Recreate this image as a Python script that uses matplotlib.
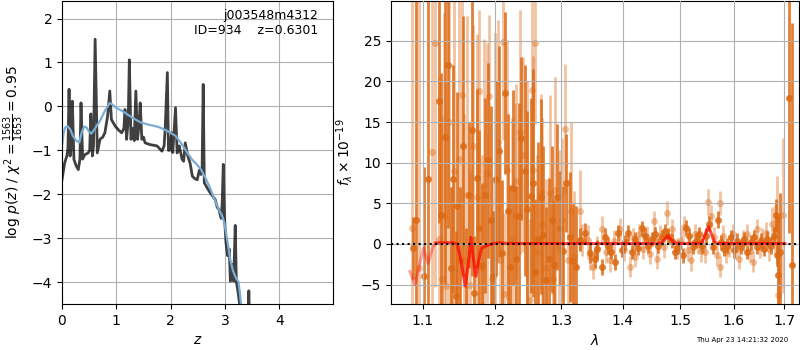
import matplotlib
matplotlib.use('Agg')
import matplotlib.pyplot as plt
from matplotlib.ticker import FixedLocator, NullLocator, FixedFormatter

# p(z) curve
z_grid = [0.0, 0.05, 0.09, 0.11, 0.13, 0.15, 0.17, 0.19, 0.22, 0.26,
          0.30, 0.33, 0.35, 0.38, 0.42, 0.48, 0.51, 0.53, 0.56, 0.58,
          0.61, 0.65, 0.70, 0.75, 0.79, 0.84, 0.88, 0.91, 0.98, 1.05,
          1.10, 1.14, 1.16, 1.19, 1.22, 1.24, 1.27, 1.31, 1.33, 1.36,
          1.39, 1.42, 1.44, 1.47, 1.50, 1.53, 1.62, 1.75, 1.84, 1.88,
          1.90, 1.94, 1.96, 1.98, 2.02, 2.04, 2.09, 2.12, 2.16, 2.21,
          2.24, 2.27, 2.31, 2.36, 2.40, 2.45, 2.49, 2.53, 2.56, 2.58,
          2.60, 2.62, 2.67, 2.73, 2.78, 2.82, 2.86, 2.89, 2.93, 2.95,
          2.97, 2.99, 3.02, 3.05, 3.08, 3.10, 3.14, 3.16, 3.19, 3.21,
          3.25, 3.30, 3.36, 3.42, 3.44, 3.46]
log_pz = [-1.67, -1.28, -1.13, -0.95, 0.39, -1.13, -0.90, 0.12, -1.21, -1.35,
          -1.44, -1.20, 0.08, -1.20, -1.10, -1.06, -1.00, -0.17, -1.13, -0.90,
          1.53, -1.06, -0.75, -0.70, -0.60, -0.22, 0.35, -0.30, -0.45, -0.55,
          -0.60, -0.50, -0.07, -0.75, -0.30, 1.06, -0.75, -0.50, -0.78, 0.35,
          -0.75, -0.40, 0.08, -0.75, -0.70, -0.83, -0.87, -0.90, -1.02, -0.90,
          -0.50, 0.77, -1.00, -1.00, -0.60, -1.05, -0.03, -1.06, -0.90, -1.20,
          -1.25, -0.83, -1.10, -1.30, -1.59, -1.65, -1.67, -1.45, -1.55, -1.40,
          0.50, -1.74, -1.85, -1.97, -2.05, -2.12, -2.30, -2.35, -2.55, -2.20,
          -1.32, -2.50, -3.10, -3.40, -3.25, -3.98, -3.60, -3.98, -2.71, -3.98,
          -4.30, -4.80, -5.20, -5.00, -4.20, -5.30]

z_smooth = [0.0, 0.03, 0.06, 0.10, 0.15, 0.20, 0.26, 0.32, 0.36, 0.41,
            0.45, 0.50, 0.54, 0.60, 0.65, 0.70, 0.75, 0.79, 0.84, 0.88,
            0.93, 0.98, 1.10, 1.19, 1.30, 1.44, 1.55, 1.60, 1.69, 1.80,
            1.94, 2.09, 2.20, 2.31, 2.40, 2.48, 2.56, 2.65, 2.74, 2.82,
            2.89, 2.95, 2.99, 3.05, 3.10, 3.15, 3.20, 3.25, 3.28, 3.31]
log_pz_smooth = [-0.90, -0.60, -0.48, -0.45, -0.52, -0.67, -0.78, -0.82, -0.60, -0.46,
                 -0.48, -0.58, -0.62, -0.52, -0.42, -0.33, -0.20, -0.10, 0.00, 0.08,
                 0.04, -0.02, -0.10, -0.17, -0.26, -0.36, -0.40, -0.42, -0.44, -0.48,
                 -0.56, -0.67, -0.85, -1.06, -1.22, -1.32, -1.44, -1.65, -1.90, -2.15,
                 -2.35, -2.50, -2.65, -3.10, -3.50, -3.75, -3.90, -4.00, -4.30, -4.70]

# spectrum, first set (dark)
dark_wave = [1.088, 1.091, 1.102, 1.107, 1.122, 1.125, 1.130, 1.134, 1.138, 1.141,
             1.145, 1.147, 1.151, 1.155, 1.159, 1.163, 1.167, 1.171, 1.174, 1.178,
             1.182, 1.186, 1.190, 1.194, 1.198, 1.202, 1.206, 1.211, 1.215, 1.219,
             1.222, 1.227, 1.231, 1.235, 1.239, 1.244, 1.248, 1.253, 1.256, 1.260,
             1.264, 1.268, 1.272, 1.277, 1.281, 1.285, 1.288, 1.294, 1.298, 1.302,
             1.307, 1.313, 1.318, 1.324, 1.330, 1.337, 1.345, 1.354, 1.358, 1.365,
             1.370, 1.376, 1.381, 1.387, 1.392, 1.398, 1.404, 1.409, 1.415, 1.421,
             1.426, 1.432, 1.438, 1.444, 1.450, 1.455, 1.461, 1.467, 1.473, 1.479,
             1.485, 1.491, 1.497, 1.505, 1.511, 1.517, 1.523, 1.529, 1.535, 1.541,
             1.548, 1.554, 1.560, 1.571, 1.575, 1.581, 1.588, 1.594, 1.601, 1.607,
             1.614, 1.620, 1.626, 1.633, 1.640, 1.646, 1.653, 1.659, 1.666, 1.673,
             1.680, 1.683, 1.685, 1.687, 1.691, 1.711, 1.716]
dark_flux = [-0.5, 3.0, -4.0, 8.0, 17.6, 3.5, 13.1, 22.0, -3.0, 8.0,
             -6.4, 4.7, -2.0, 12.0, -8.0, 6.0, 14.0, -6.0, 8.1, 2.0,
             -2.6, 6.0, 10.3, 3.0, -4.0, 8.0, 11.4, -1.1, 18.6, 4.0,
             -2.8, 6.9, -1.9, 3.4, 13.0, 9.0, 4.3, 5.9, 7.5, -3.5,
             0.6, 5.8, 1.1, -4.5, -1.9, 3.0, -2.6, 5.8, 2.0, -0.9,
             7.5, 0.9, -2.1, -2.8, 0.5, 1.3, -1.1, -1.8, -0.6, -2.8,
             0.9, -0.2, -0.95, -2.2, 1.3, -0.7, 0.2, 1.3, -1.0, 0.6,
             -0.5, 1.9, 1.0, -0.2, 0.6, 1.2, -0.2, 0.8, 1.6, 1.0,
             0.4, -1.0, -0.4, -1.4, 2.0, 1.0, -0.4, 0.4, 1.2, -0.2,
             1.0, 2.5, -0.4, 3.0, 0.2, -0.6, -0.2, 0.8, -0.8, 0.4,
             -0.4, 0.6, -1.0, 0.2, 0.8, -0.4, 0.4, -0.6, 0.6, -0.2,
             1.0, 3.5, -1.4, -3.8, -1.0, 17.9, -2.6]
dark_err = [3.8, 40.0, 13.5, 40.0, 15.0, 17.5, 18.0, 20.0, 10.0, 14.0,
            8.0, 14.0, 9.0, 16.0, 10.0, 9.0, 18.0, 7.0, 11.0, 12.0,
            10.0, 12.0, 12.0, 14.0, 8.0, 12.0, 13.0, 9.0, 10.0, 12.0,
            10.0, 12.0, 9.0, 14.0, 10.0, 13.0, 12.0, 12.0, 14.0, 9.0,
            12.0, 12.0, 11.0, 9.0, 10.0, 9.0, 8.0, 9.0, 7.0, 8.0,
            6.0, 8.0, 7.0, 7.5, 1.4, 1.3, 1.2, 1.2, 1.1, 1.0,
            1.0, 1.0, 0.9, 1.0, 1.0, 0.9, 0.9, 1.0, 0.9, 0.9,
            0.9, 0.9, 0.9, 0.9, 0.9, 0.9, 0.9, 0.9, 0.9, 0.9,
            0.9, 0.9, 0.9, 0.9, 0.9, 0.9, 0.9, 0.9, 0.9, 0.9,
            0.9, 0.9, 0.9, 1.0, 0.9, 0.9, 0.9, 0.9, 0.9, 0.9,
            0.9, 0.9, 0.9, 0.9, 0.9, 0.9, 0.9, 0.9, 1.0, 1.0,
            1.1, 2.0, 1.3, 7.2, 7.3, 16.5, 29.8]

# spectrum, second set (light)
light_wave = [1.086, 1.095, 1.112, 1.117, 1.122, 1.126, 1.129, 1.132, 1.136, 1.140,
              1.143, 1.149, 1.153, 1.157, 1.161, 1.165, 1.169, 1.175, 1.177, 1.181,
              1.185, 1.189, 1.191, 1.196, 1.201, 1.204, 1.208, 1.212, 1.213, 1.218,
              1.225, 1.229, 1.231, 1.237, 1.242, 1.247, 1.252, 1.255, 1.257, 1.259,
              1.263, 1.269, 1.270, 1.276, 1.282, 1.287, 1.291, 1.296, 1.301, 1.306,
              1.310, 1.315, 1.320, 1.329, 1.333, 1.343, 1.346, 1.351, 1.358, 1.365,
              1.372, 1.379, 1.386, 1.395, 1.402, 1.412, 1.417, 1.421, 1.428, 1.435,
              1.441, 1.447, 1.454, 1.459, 1.465, 1.471, 1.477, 1.486, 1.494, 1.502,
              1.508, 1.514, 1.520, 1.527, 1.533, 1.539, 1.545, 1.552, 1.556, 1.563,
              1.568, 1.573, 1.574, 1.579, 1.585, 1.592, 1.599, 1.605, 1.611, 1.618,
              1.626, 1.631, 1.637, 1.646, 1.652, 1.656, 1.663, 1.670, 1.675, 1.681,
              1.685, 1.688, 1.698]
light_flux = [2.0, -3.0, 11.3, 24.7, 0.6, -4.3, 3.4, -5.2, 15.0, -8.0,
              9.0, 10.5, 18.3, -2.0, 6.0, -5.0, 12.0, 5.8, 18.8, -3.0,
              7.2, 8.7, 18.2, -4.3, 7.9, 12.6, -2.0, 24.8, -6.2, 9.1,
              0.5, 3.4, 7.7, 13.8, 11.0, 5.0, -6.9, 19.0, 9.1, 24.7,
              -1.0, 6.4, 2.5, -3.0, 6.3, -4.3, 6.6, -0.5, 3.0, 14.2,
              -2.0, 4.0, -1.5, 4.1, 0.5, 0.5, -1.6, -2.8, -0.5, 1.8,
              -1.0, -2.0, 0.3, 1.8, -0.8, -2.8, 0.7, -1.6, 1.2, -0.6,
              0.9, -1.2, 2.8, -1.8, 1.0, -0.4, 3.8, 1.8, -0.6, 0.5,
              2.1, -0.8, -2.0, 1.2, 0.0, -0.9, -1.0, 5.1, 3.4, 0.8,
              -1.4, 5.0, -2.8, 1.0, -1.0, -0.3, 1.2, -0.6, -1.8, 0.4,
              1.2, -0.9, -2.2, 1.8, -0.4, 0.6, 1.3, -0.6, 2.5, 1.8,
              3.0, -6.3, 3.5]
light_err = [45.0, 45.0, 30.0, 30.0, 20.0, 20.0, 25.0, 25.0, 25.0, 15.0,
             22.0, 22.0, 20.0, 18.0, 22.0, 14.0, 15.0, 20.0, 10.0, 14.0,
             18.0, 16.0, 10.0, 12.0, 18.0, 15.0, 14.0, 12.0, 10.0, 16.0,
             15.0, 14.0, 12.0, 15.0, 12.0, 15.0, 10.0, 12.0, 14.0, 10.0,
             12.0, 12.0, 13.0, 11.0, 12.0, 10.0, 14.0, 12.0, 10.0, 8.0,
             10.0, 11.0, 8.0, 5.0, 2.0, 1.8, 1.6, 1.5, 1.5, 1.6,
             1.4, 1.4, 1.4, 1.4, 1.3, 1.3, 1.3, 1.3, 1.3, 1.3,
             1.3, 1.3, 1.3, 1.3, 1.3, 1.3, 1.5, 1.3, 1.3, 1.3,
             1.3, 1.3, 1.3, 1.3, 1.3, 1.3, 1.3, 1.6, 1.4, 1.3,
             1.3, 1.5, 1.3, 1.3, 1.3, 1.3, 1.3, 1.3, 1.3, 1.3,
             1.3, 1.3, 1.3, 1.3, 1.3, 1.4, 1.4, 1.5, 2.0, 3.0,
             5.3, 4.0, 9.5]

# model
model_wave = [1.1177, 1.125, 1.140, 1.147, 1.152, 1.158, 1.163, 1.166, 1.169, 1.173,
              1.177, 1.181, 1.192, 1.205, 1.220, 1.300, 1.400, 1.455, 1.466, 1.472,
              1.478, 1.484, 1.490, 1.500, 1.535, 1.541, 1.546, 1.552, 1.558, 1.563,
              1.569, 1.650, 1.702]
model_flux = [0.1, 0.15, 0.15, 0.0, -2.0, -5.2, -2.0, 0.8, -1.5, -4.0,
              -2.0, -0.5, -0.1, 0.15, 0.05, 0.05, 0.05, 0.05, 0.1, 0.5,
              1.0, 0.5, 0.1, 0.05, 0.05, 0.3, 1.2, 2.1, 1.2, 0.3,
              0.05, 0.05, 0.05]
model_blue_wave = [1.0833, 1.0898, 1.1013, 1.1075, 1.1133, 1.1177]
model_blue_flux = [-3.4, -5.0, -0.5, -2.4, -0.5, 0.1]

wave_ticks = [1.1, 1.2, 1.3, 1.4, 1.5, 1.6, 1.7]

orange = '#dc6a14'

fig = plt.figure(figsize=(8, 3.5), dpi=100)
ax1 = fig.add_axes([62/800, 46/350, 271/800, 303/350])
ax2 = fig.add_axes([391/800, 46/350, 408/800, 303/350])

ax1.plot(z_grid, log_pz, color='k', alpha=0.75, lw=2)
ax1.plot(z_smooth, log_pz_smooth, color='#7aadd6', lw=1.6)
ax1.set_xlim(0, 4.99)
ax1.set_ylim(-4.5, 2.4)
ax1.set_xticks([0, 1, 2, 3, 4])
ax1.set_yticks([-4, -3, -2, -1, 0, 1, 2])
ax1.grid(True)
ax1.set_xlabel('$z$')
ax1.set_ylabel(r'log $p(z)$ / $\chi^2=\frac{1563}{1653}=0.95$')
ax1.text(0.945, 0.975, 'j003548m4312\nID=934    z=0.6301', transform=ax1.transAxes,
         ha='right', va='top', fontsize=9)

ax2.errorbar(light_wave, light_flux, yerr=light_err, fmt='o', color=orange,
             alpha=0.4, ms=5, mew=0, elinewidth=2, capsize=0)
ax2.errorbar(dark_wave, dark_flux, yerr=dark_err, fmt='o', color=orange,
             alpha=0.85, ms=5, mew=0, elinewidth=2, capsize=0)
ax2.plot(model_blue_wave, model_blue_flux, color='red', alpha=0.35, lw=2.2, zorder=4)
ax2.plot(model_wave, model_flux, color='red', alpha=0.7, lw=2.2, zorder=4)
ax2.axhline(0, color='k', ls=':', lw=1.5, zorder=5)

ax2.set_xscale('log')
ax2.set_xlim(1.059, 1.731)
ax2.xaxis.set_major_locator(FixedLocator(wave_ticks))
ax2.xaxis.set_major_formatter(FixedFormatter([str(t) for t in wave_ticks]))
ax2.xaxis.set_minor_locator(NullLocator())
ax2.set_ylim(-7.4, 29.9)
ax2.set_yticks([-5, 0, 5, 10, 15, 20, 25])
ax2.set_axisbelow(False)
ax2.grid(True)
ax2.set_xlabel(r'$\lambda$')
ax2.set_ylabel(r'$f_\lambda\times10^{-19}$')

fig.text(0.985, 0.029, 'Thu Apr 23 14:21:32 2020', ha='right', va='center', fontsize=5)

fig.savefig('out.png', dpi=100)
